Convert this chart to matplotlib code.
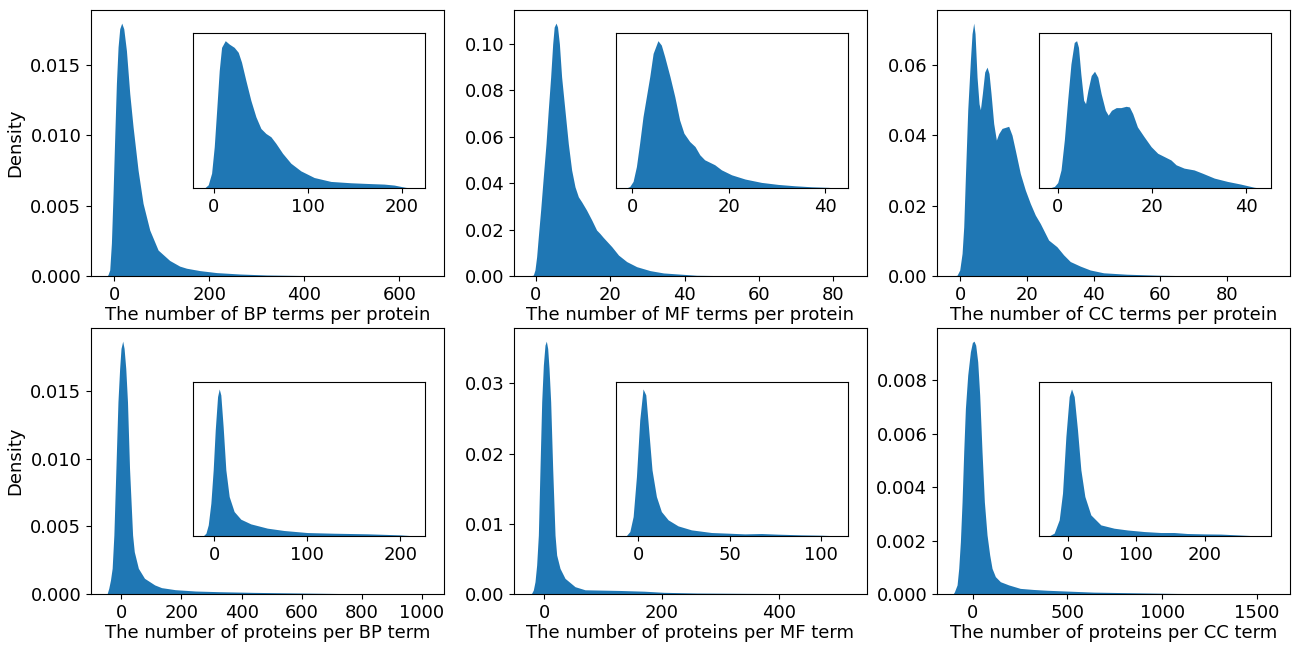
import matplotlib
matplotlib.use("Agg")
import matplotlib.pyplot as plt

# density curves (x = count, y = density)
# --- BP terms per protein
bp_prot_x = [-14.7, -12.6, -9.1, -5.6, -2.1, 1.4, 4.9, 8.4, 11.9, 16.1, 20.4, 26, 33, 40, 50.5, 61, 75,
             92.6, 117, 138, 152.3, 180.4, 215.4, 264.6, 320.7, 391, 461, 531, 660]
bp_prot_y = [0, 0.0001, 0.00043, 0.00232, 0.00586, 0.00987, 0.01366, 0.01625, 0.01755, 0.01795, 0.01755,
             0.016, 0.01295, 0.01058, 0.00751, 0.00515, 0.00326, 0.00184, 0.0011, 0.0007, 0.00055,
             0.00038, 0.00024, 0.00014, 0.00007, 0.000035, 0.000017, 0.000007, 0]
bp_prot_in_x = [-11, -9.2, -5.7, -2.1, 0.7, 3.5, 6.0, 8.5, 12.4, 16.6, 21.9, 26.2, 29.7, 34.3, 39.6, 45.0,
                50.3, 55.6, 60.9, 66.2, 73.3, 82.1, 92.7, 106.9, 124.6, 145.8, 163.5, 181.2, 191.9, 198.9,
                204.2, 213]
bp_prot_in_y = [0, 0.00005, 0.00037, 0.00168, 0.00466, 0.00914, 0.01324, 0.01585, 0.0166, 0.01622, 0.01585,
                0.01529, 0.01417, 0.01212, 0.00988, 0.00802, 0.00671, 0.00615, 0.00578, 0.00504, 0.00392,
                0.0028, 0.00194, 0.00119, 0.00075, 0.0006, 0.00052, 0.00045, 0.00034, 0.00019, 0.00008, 0]

# --- MF terms per protein
mf_prot_x = [-1.6, -0.7, -0.27, 0.18, 0.63, 1.26, 1.97, 2.7, 3.3, 3.95, 4.5, 4.9, 5.4, 5.8, 6.3, 6.9, 7.8,
             8.7, 9.6, 10.5, 11.4, 12.3, 13.6, 15, 16.3, 17.2, 18.1, 20.4, 22.2, 24.4, 27.1, 30.7, 34.3,
             43.2, 52.2, 61.2, 84.7]
mf_prot_y = [0, 0.0004, 0.0026, 0.0083, 0.0169, 0.0284, 0.0427, 0.057, 0.0713, 0.0857, 0.1, 0.1072, 0.1089,
             0.1072, 0.1, 0.0857, 0.0713, 0.057, 0.0456, 0.0384, 0.0341, 0.0319, 0.0284, 0.0241, 0.0198,
             0.0183, 0.0166, 0.0126, 0.009, 0.0062, 0.004, 0.0023, 0.0013, 0.0003, 0.0001, 0.00003, 0]
mf_prot_in_x = [-1.3, -0.55, 0.14, 0.83, 1.5, 2.2, 2.9, 3.6, 4.3, 5.3, 6.0, 6.7, 7.8, 8.8, 9.8, 10.7,
                11.9, 13.0, 14.0, 15.0, 17.1, 18.5, 20.6, 23.4, 26.8, 30.3, 33.7, 37.2, 40.7, 42.5]
mf_prot_in_y = [0, 0.0011, 0.0046, 0.0148, 0.0308, 0.049, 0.0627, 0.0764, 0.0923, 0.101, 0.098, 0.0901,
                0.0764, 0.0627, 0.0467, 0.0376, 0.0319, 0.0285, 0.0228, 0.0194, 0.016, 0.0125, 0.0091,
                0.0062, 0.0039, 0.0025, 0.0016, 0.0009, 0.0005, 0]

# --- CC terms per protein
cc_prot_x = [-2.2, -1, -0.2, 0.5, 1, 1.5, 2.2, 3, 3.5, 4, 4.4, 5, 5.6, 6, 6.6, 7.3, 8, 8.6, 9.2, 10, 10.8,
             11.5, 12.5, 14.5, 15.5, 16.5, 18, 19.5, 21, 22.5, 24, 26.5, 29, 31, 33, 36, 39, 43, 50, 60,
             70, 94.2]
cc_prot_y = [0, 0.0002, 0.0017, 0.0064, 0.014, 0.0282, 0.0471, 0.0612, 0.0688, 0.0718, 0.0688, 0.0565,
             0.0489, 0.0472, 0.0518, 0.0579, 0.0593, 0.0575, 0.0518, 0.0433, 0.0386, 0.0404, 0.0419,
             0.0425, 0.04, 0.0357, 0.0291, 0.0244, 0.0206, 0.0173, 0.0149, 0.0102, 0.0083, 0.006, 0.0041,
             0.0028, 0.0017, 0.0009, 0.0005, 0.0002, 0.00005, 0]
cc_prot_in_x = [-1.8, -0.7, 0, 0.7, 1.4, 2.1, 2.8, 3.5, 4.0, 4.4, 4.9, 5.5, 5.9, 6.4, 7.1, 7.8, 8.5, 9.2,
                10.1, 10.7, 11.4, 12.4, 13.4, 14.5, 15.2, 15.9, 16.9, 18.3, 19.8, 21.2, 22.6, 24.0, 25.1,
                26.8, 28.9, 30.7, 33.2, 36.0, 38.8, 41.6, 42.9]
cc_prot_in_y = [0, 0.00075, 0.0025, 0.0082, 0.0217, 0.0396, 0.056, 0.0657, 0.0665, 0.0635, 0.0515, 0.0396,
                0.0381, 0.0441, 0.0508, 0.0527, 0.05, 0.0426, 0.0351, 0.0329, 0.0351, 0.0363, 0.0363,
                0.0369, 0.0366, 0.0336, 0.0276, 0.0232, 0.0187, 0.0157, 0.0142, 0.0127, 0.0105, 0.009,
                0.0082, 0.0067, 0.0045, 0.003, 0.0018, 0.0004, 0]

# --- proteins per BP term
bp_term_x = [-47.5, -41.9, -36.2, -30.6, -24.9, -18.1, -11.3, -5.7, -1.1, 4.5, 9.1, 14.7, 20.4, 27.2, 37.4,
             43, 56.6, 77, 111, 133.6, 178.9, 246.8, 326, 439, 609, 779, 1020]
bp_term_y = [0, 0.00042, 0.00103, 0.0019, 0.00436, 0.00929, 0.01421, 0.01667, 0.01815, 0.01869, 0.01815,
             0.01667, 0.01421, 0.00929, 0.00436, 0.00313, 0.0019, 0.00116, 0.00067, 0.00047, 0.00032,
             0.00022, 0.00017, 0.00012, 0.00007, 0.00002, 0]
bp_term_in_x = [-11.8, -8.9, -6.4, -3.6, -1.1, 1.1, 3.6, 5.4, 7.1, 9.6, 12.5, 16.1, 21.4, 28.6, 39.3,
                57.1, 75, 100, 128.6, 164.3, 200, 214.7]
bp_term_in_y = [0, 0.00027, 0.00113, 0.00336, 0.00678, 0.01089, 0.01431, 0.0151, 0.01448, 0.01123,
                0.00678, 0.00404, 0.0025, 0.00171, 0.00123, 0.00079, 0.00055, 0.00034, 0.00027, 0.00021,
                0.0001, 0]

# --- proteins per MF term
mf_term_x = [-24.4, -21.6, -18.75, -15.9, -13.1, -10.2, -7.4, -4.5, -1.7, 1.1, 3.4, 5.7, 8.0, 10.8, 14.2,
             18.2, 21, 26.7, 35.2, 52.3, 69.3, 100, 130, 170, 203, 260, 345, 430, 522]
mf_term_y = [0, 0.0001, 0.00057, 0.00176, 0.00413, 0.0084, 0.0179, 0.02739, 0.03261, 0.03546, 0.03603,
             0.03498, 0.03214, 0.02739, 0.0179, 0.0084, 0.00555, 0.00365, 0.00223, 0.00104, 0.0006,
             0.00055, 0.0005, 0.0004, 0.00024, 0.00014, 0.00009, 0.00005, 0]
mf_term_in_x = [-6.5, -4.5, -2.7, -0.9, 0.9, 2.7, 4.2, 5.8, 7.6, 10, 12.7, 16.4, 21.8, 29.1, 40, 49.1,
                58.2, 67.3, 76.4, 89.1, 100, 108.5]
mf_term_in_y = [0, 0.00085, 0.00381, 0.01171, 0.02288, 0.029, 0.02782, 0.02091, 0.01302, 0.00776, 0.0048,
                0.00316, 0.00197, 0.00118, 0.00066, 0.00053, 0.00039, 0.00046, 0.00033, 0.0002, 0.00013, 0]

# --- proteins per CC term
cc_term_x = [-103.7, -96.7, -82.6, -73.9, -65.1, -56.3, -47.5, -38.7, -26.4, -12.3, -1.8, 7, 15.8, 26.4,
             36.9, 49.2, 61.5, 75.6, 89.7, 102, 119.6, 146, 190, 251, 320, 392, 497.6, 638, 814, 1078,
             1341.6, 1591]
cc_term_y = [0, 0.00008, 0.00034, 0.00096, 0.00196, 0.00345, 0.00532, 0.00694, 0.00819, 0.00906, 0.00941,
             0.00946, 0.00931, 0.00869, 0.00744, 0.00532, 0.00345, 0.00221, 0.00146, 0.00096, 0.00065,
             0.00046, 0.00034, 0.00021, 0.00017, 0.00014, 0.00011, 0.00007, 0.00005, 0.00002, 0.00001, 0]
cc_term_in_x = [-26.6, -19.4, -12.1, -7.3, -2.4, 2.4, 5.8, 9.7, 14.5, 19.4, 25.2, 33.9, 48.4, 67.8, 87.2,
                111.4, 135.6, 155, 174, 198.5, 222.8, 247, 270, 280]
cc_term_in_y = [0, 0.00014, 0.00082, 0.00218, 0.00507, 0.00711, 0.0075, 0.00711, 0.00541, 0.00337,
                0.00201, 0.00107, 0.00056, 0.00039, 0.0003, 0.00022, 0.00017, 0.00017, 0.00012, 0.0001,
                0.00009, 0.00005, 0.00001, 0]

xlabels = ["The number of BP terms per protein", "The number of MF terms per protein",
           "The number of CC terms per protein", "The number of proteins per BP term",
           "The number of proteins per MF term", "The number of proteins per CC term"]

# tick positions shown on the main axes and on the insets
main_xticks = [[0, 200, 400, 600], [0, 20, 40, 60, 80], [0, 20, 40, 60, 80],
               [0, 200, 400, 600, 800, 1000], [0, 200, 400], [0, 500, 1000, 1500]]
inset_xticks = [[0, 100, 200], [0, 20, 40], [0, 20, 40],
                [0, 100, 200], [0, 50, 100], [0, 100, 200]]

panels = [(bp_prot_x, bp_prot_y, bp_prot_in_x, bp_prot_in_y),
          (mf_prot_x, mf_prot_y, mf_prot_in_x, mf_prot_in_y),
          (cc_prot_x, cc_prot_y, cc_prot_in_x, cc_prot_in_y),
          (bp_term_x, bp_term_y, bp_term_in_x, bp_term_in_y),
          (mf_term_x, mf_term_y, mf_term_in_x, mf_term_in_y),
          (cc_term_x, cc_term_y, cc_term_in_x, cc_term_in_y)]

plt.rcParams['font.size'] = 13
blue = '#1f77b4'


def density(ax, x, y):
    poly = ax.fill_between(x, 0, y, color=blue, linewidth=0)
    poly.sticky_edges.y.append(0)
    ax.autoscale_view()


fig = plt.figure(figsize=(12.93, 6.46), dpi=100)
lefts = [0.0704, 0.3975, 0.7247]
bottoms = [0.5728, 0.0805]

for i, (x, y, ix, iy) in enumerate(panels):
    row, col = divmod(i, 3)
    ax = fig.add_axes([lefts[col], bottoms[row], 0.273, 0.411])
    density(ax, x, y)
    ax.set_xticks(main_xticks[i])
    ax.set_xlabel(xlabels[i], labelpad=2)
    if col == 0:
        ax.set_ylabel("Density")

    # inset with the zoomed-in part of the distribution
    inset_pos = [0.288, 0.331, 0.657, 0.583] if row == 0 else [0.288, 0.219, 0.657, 0.581]
    ins = ax.inset_axes(inset_pos)
    density(ins, ix, iy)
    ins.set_xticks(inset_xticks[i])
    ins.set_yticks([])

fig.savefig("out.png", dpi=100)
